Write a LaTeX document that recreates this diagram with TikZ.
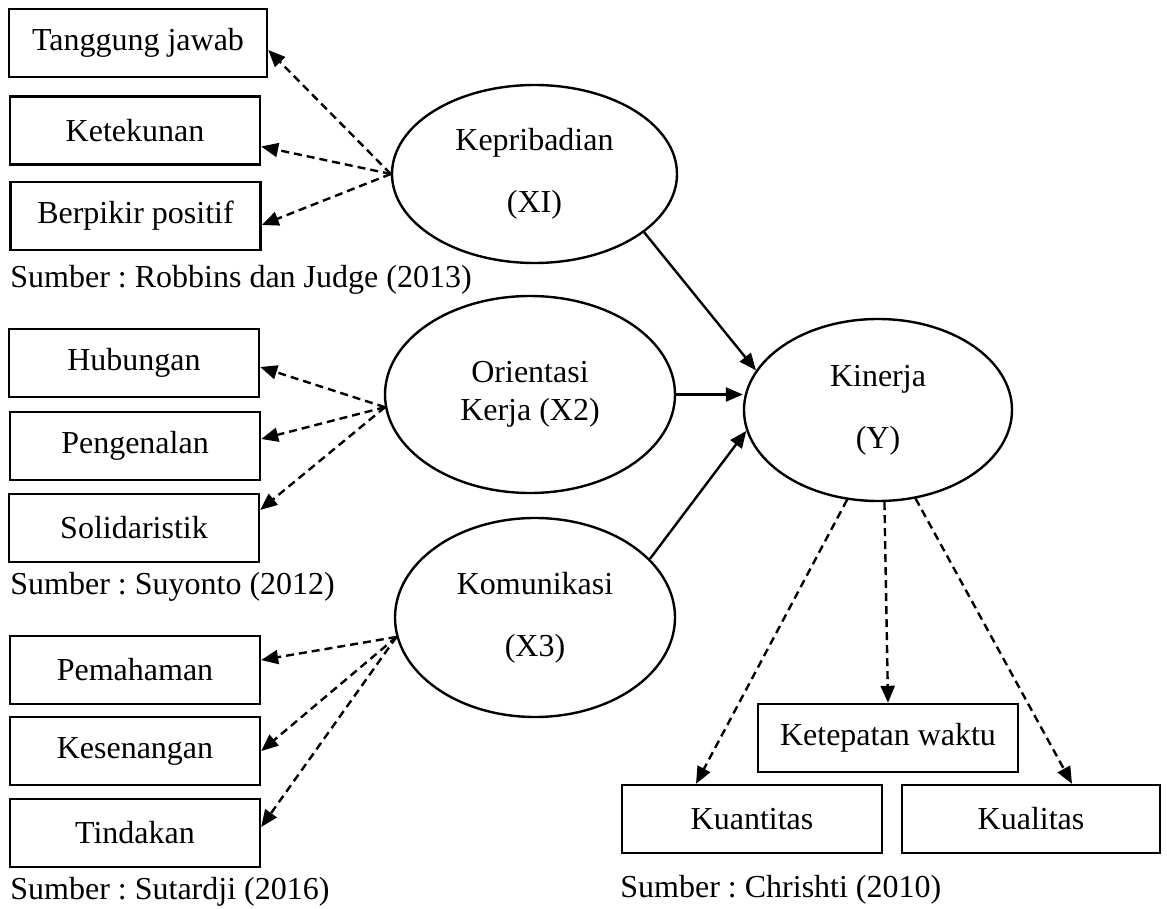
\documentclass[tikz,border=0pt]{standalone}
\usepackage{fontspec}
\setmainfont{Liberation Serif}
\usetikzlibrary{arrows.meta,shapes.geometric}
\frenchspacing

\begin{document}
\begin{tikzpicture}[x=0.5pt, y=-0.5pt,
    every node/.style={font=\fontsize{16}{19}\selectfont},
    box/.style={draw, line width=1.2pt, minimum width=125pt,
                minimum height=34pt, inner sep=0pt},
    latent/.style={draw, ellipse, line width=1.2pt, inner sep=0pt,
                   align=center},
    src/.style={anchor=west, inner sep=0pt},
    ind/.style={-{Triangle[length=8.5pt,width=7pt]}, line width=1.2pt,
                dash pattern=on 4pt off 2.5pt},
    effect/.style={-{Triangle[length=8.5pt,width=7pt]}, line width=1.2pt}]
  \useasboundingbox (0,0) rectangle (1167,909);

  % Kepribadian (X1)
  \node[latent, minimum width=142.5pt, minimum height=89pt] (kep)
    at (534.5,174) {Kepribadian\\[12pt](XI)};
  \node[box, minimum width=129pt] (tj) at (138,43) {Tanggung jawab};
  \node[box] (tek) at (135,130.5) {Ketekunan};
  \node[box] (bp) at (135.5,216) {Berpikir positif};
  \node[src] (srckep) at (10,280) {Sumber : Robbins dan Judge (2013)};

  % Orientasi kerja (X2)
  \node[latent, minimum width=145pt, minimum height=98.5pt] (ori)
    at (530,394.5) {Orientasi\\Kerja (X2)};
  \node[box] (hub) at (134,363) {Hubungan};
  \node[box] (pen) at (135,446) {Pengenalan};
  \node[box] (sol) at (134,528) {Solidaristik};
  \node[src] (srcori) at (10,587) {Sumber : Suyonto (2012)};

  % Komunikasi (X3)
  \node[latent, minimum width=140pt, minimum height=99.5pt] (kom)
    at (535,617.5) {Komunikasi\\[12pt](X3)};
  \node[box] (pem) at (135,670) {Pemahaman};
  \node[box] (ksn) at (135,751) {Kesenangan};
  \node[box] (tin) at (135,833) {Tindakan};
  \node[src] (srckom) at (10,892) {Sumber : Sutardji (2016)};

  % Kinerja (Y)
  \node[latent, minimum width=134pt, minimum height=91pt] (kin)
    at (878,410) {Kinerja\\[12pt](Y)};
  \node[box, minimum width=130pt] (ket) at (888,738) {Ketepatan waktu};
  \node[box, minimum width=130pt] (kuan) at (752,819) {Kuantitas};
  \node[box, minimum width=129pt] (kual) at (1031,819) {Kualitas};
  \node[src] (srckin) at (620,890) {Sumber : Chrishti (2010)};

  % indikator
  \draw[ind] (kep.west) -- ([yshift=-3.5pt]tj.east);
  \draw[ind] (kep.west) -- ([yshift=-8pt]tek.east);
  \draw[ind] (kep.west) -- ([yshift=-4.5pt]bp.east);
  \draw[ind] (ori.185) -- ([yshift=-2pt]hub.east);
  \draw[ind] (ori.185) -- ([yshift=3.5pt]pen.east);
  \draw[ind] (ori.185) -- ([yshift=9pt]sol.east);
  \draw[ind] (kom.188) -- ([yshift=5pt]pem.east);
  \draw[ind] (kom.188) -- (ksn.east);
  \draw[ind] (kom.188) -- ([yshift=3pt]tin.east);
  \draw[ind] (kin.251) -- ([xshift=-28pt]kuan.north);
  \draw[ind] (kin.274) -- (ket.north);
  \draw[ind] (kin.293) -- ([xshift=20.5pt]kual.north);

  % pengaruh X ke Y
  \draw[effect] (kep.332) -- (kin.162);
  \draw[effect] (ori.east) -- (ori.east -| kin.west);
  \draw[effect] (kom.27) -- (kin.189);
\end{tikzpicture}
\end{document}
